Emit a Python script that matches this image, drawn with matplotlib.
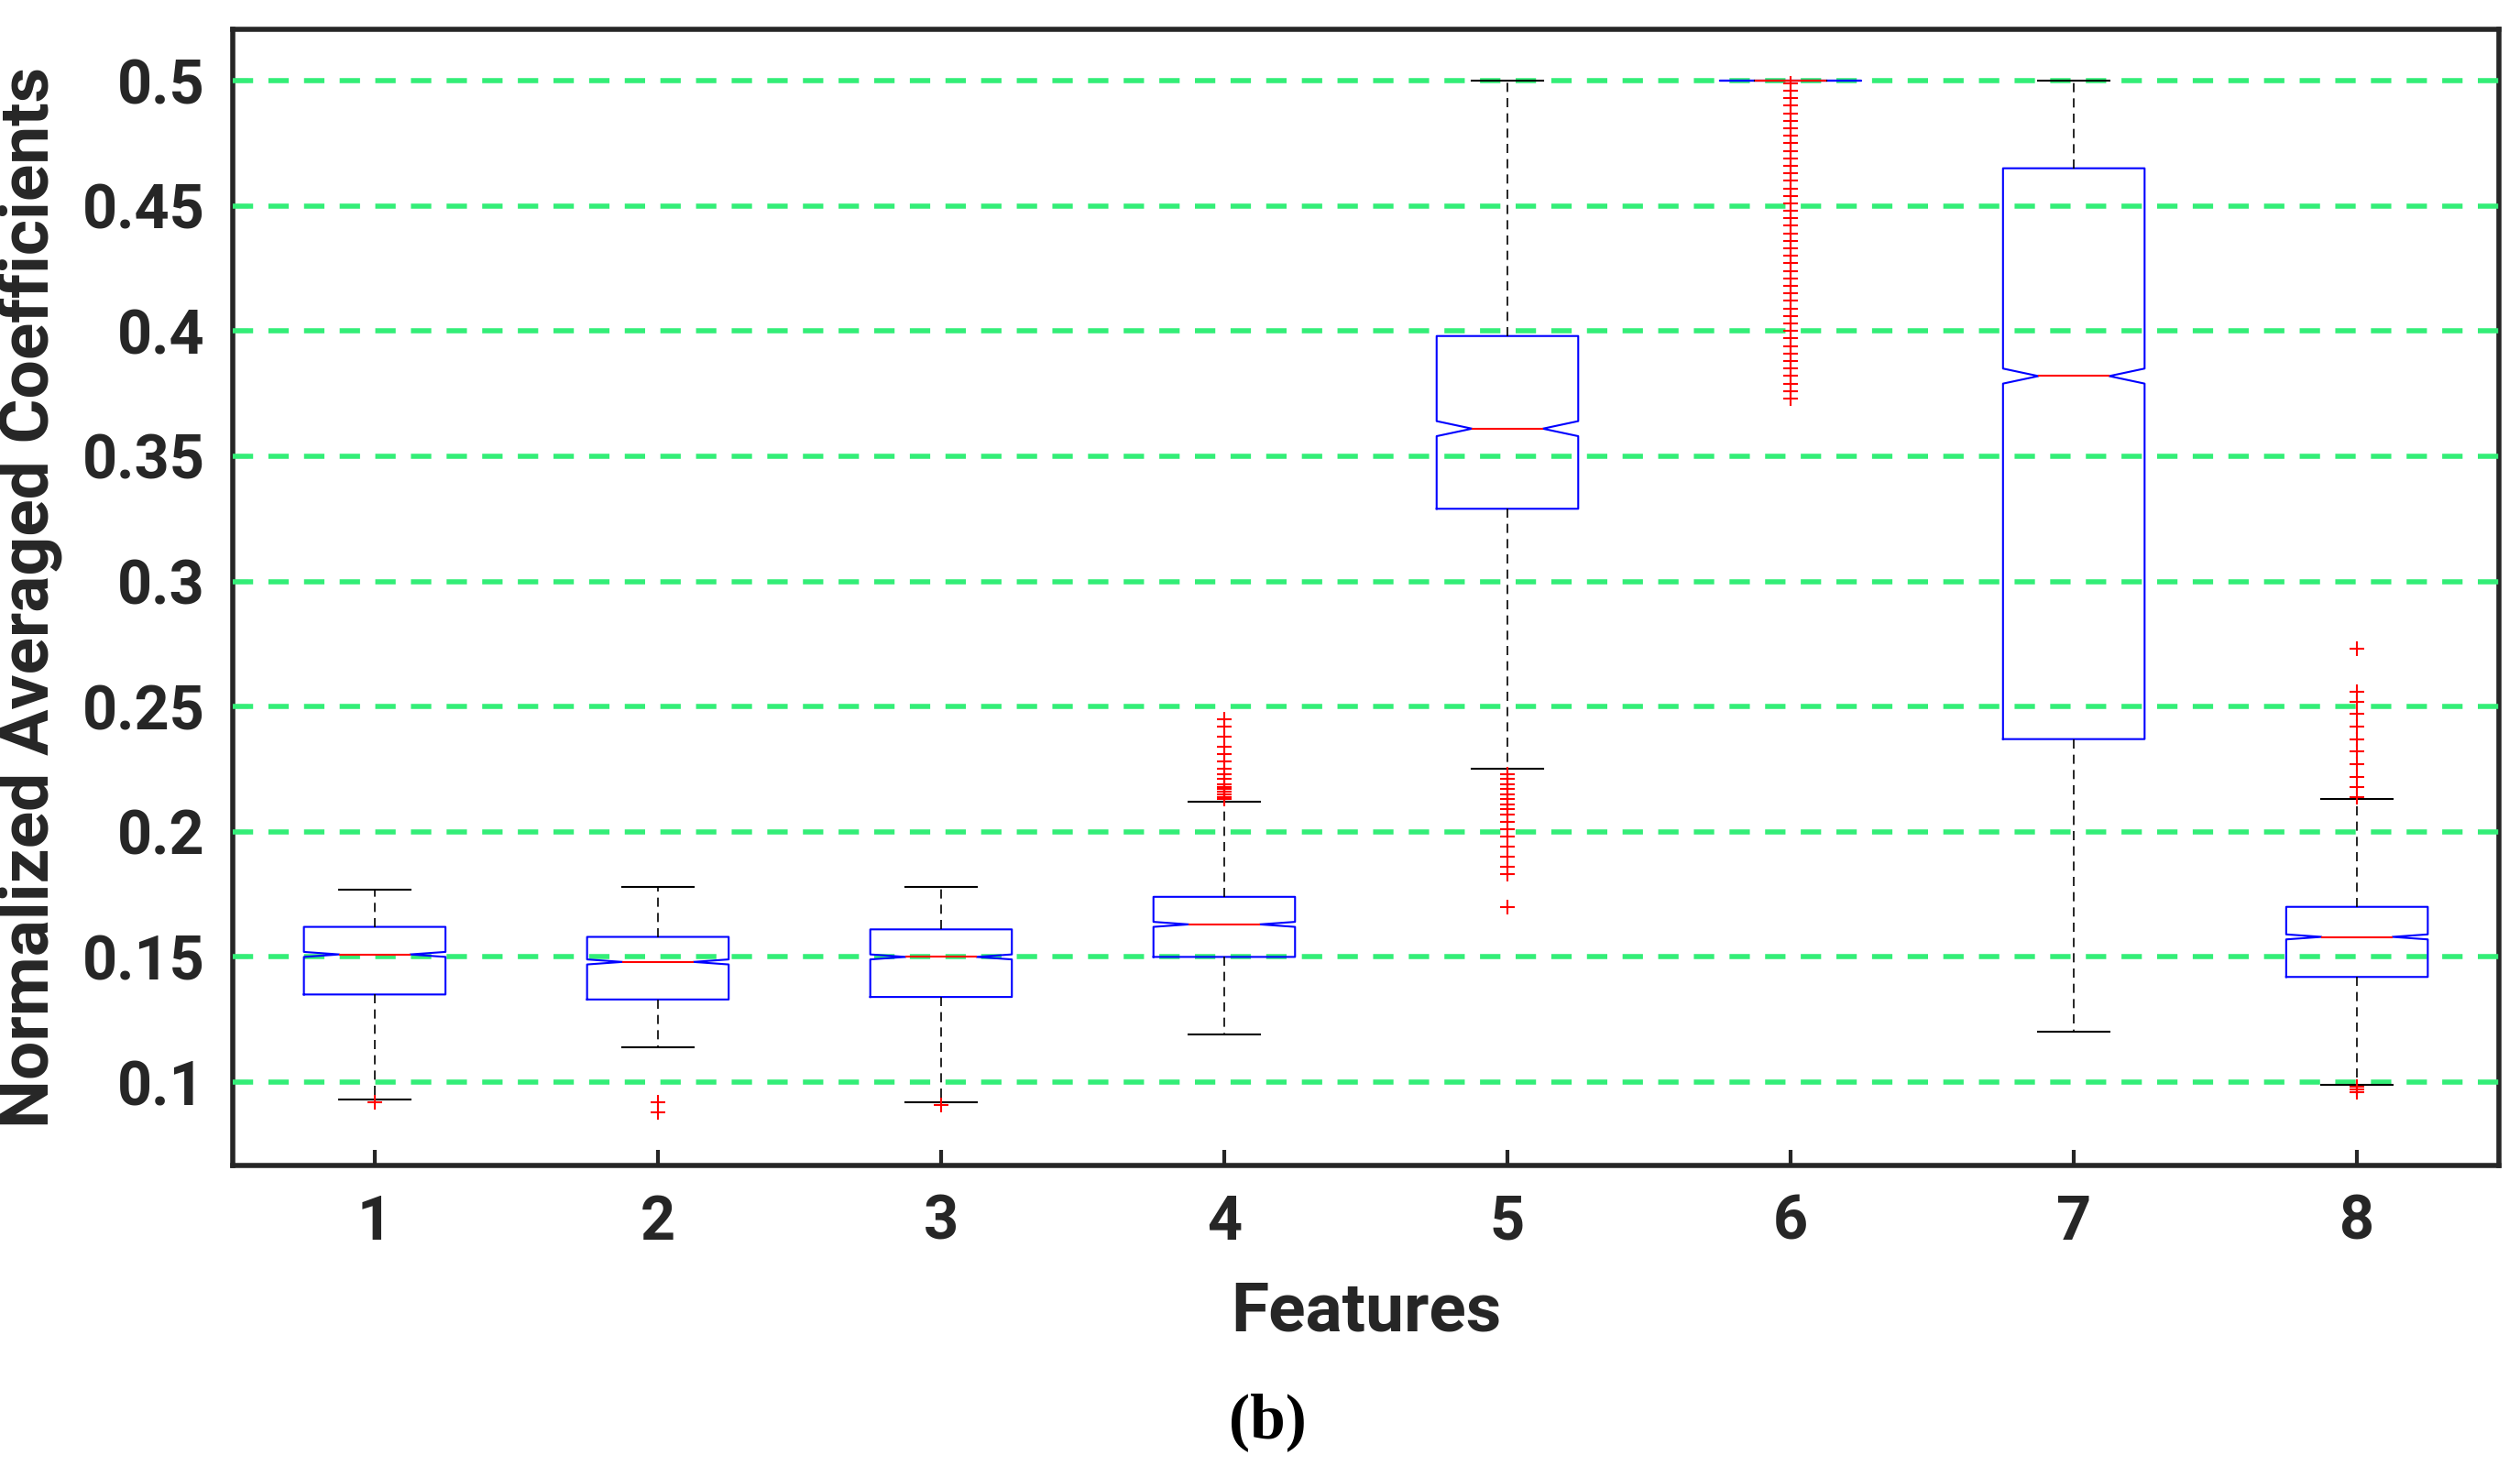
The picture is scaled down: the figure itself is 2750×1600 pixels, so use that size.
import matplotlib
matplotlib.use("Agg")
import matplotlib.pyplot as plt
import numpy as np

features = [1, 2, 3, 4, 5, 6, 7, 8]
whislo = [0.093, 0.114, 0.092, 0.119, 0.225, 0.500, 0.120, 0.099]
q1 = [0.135, 0.133, 0.134, 0.150, 0.329, 0.500, 0.237, 0.142]
med = [0.151, 0.148, 0.150, 0.163, 0.361, 0.500, 0.382, 0.158]
q3 = [0.162, 0.158, 0.161, 0.174, 0.398, 0.500, 0.465, 0.170]
whishi = [0.177, 0.178, 0.178, 0.212, 0.500, 0.500, 0.500, 0.213]
cilo = [0.150, 0.147, 0.149, 0.162, 0.358, 0.500, 0.379, 0.157]
cihi = [0.152, 0.149, 0.151, 0.164, 0.364, 0.500, 0.385, 0.159]
fliers = [
    [0.092],
    [0.088, 0.092],
    [0.091],
    [0.213, 0.214, 0.215, 0.216, 0.217, 0.218, 0.219, 0.221, 0.223, 0.225, 0.228,
     0.231, 0.234, 0.238, 0.242, 0.245],
    [0.170, 0.183, 0.186, 0.190, 0.194, 0.198, 0.201, 0.204, 0.207, 0.209, 0.211,
     0.213, 0.215, 0.217, 0.219, 0.221, 0.223],
    [0.373, 0.376, 0.379, 0.382, 0.385, 0.388, 0.391, 0.394, 0.397, 0.400, 0.403,
     0.406, 0.409, 0.412, 0.415, 0.418, 0.421, 0.424, 0.427, 0.430, 0.433, 0.436,
     0.439, 0.442, 0.445, 0.448, 0.451, 0.454, 0.457, 0.460, 0.463, 0.466, 0.469,
     0.472, 0.475, 0.478, 0.481, 0.484, 0.487, 0.490, 0.493, 0.496, 0.499],
    [],
    [0.096, 0.097, 0.098, 0.214, 0.218, 0.222, 0.227, 0.232, 0.237, 0.242, 0.247,
     0.252, 0.256, 0.273],
]

stats = []
for i in range(len(features)):
    stats.append(dict(whislo=whislo[i], q1=q1[i], med=med[i], q3=q3[i],
                      whishi=whishi[i], cilo=cilo[i], cihi=cihi[i],
                      fliers=fliers[i]))

fig = plt.figure(figsize=(27.5, 16), dpi=100)
ax = fig.add_axes([0.0925, 0.205, 0.899, 0.775])

for y in np.arange(0.1, 0.501, 0.05):
    ax.axhline(y, color="#33ee77", linestyle=(0, (4, 3)), linewidth=4, zorder=3)

ax.bxp(stats, positions=features, widths=0.5, shownotches=True,
       boxprops=dict(color="blue", linewidth=1.5),
       medianprops=dict(color="red", linewidth=1.5),
       whiskerprops=dict(color="black", linestyle=(0, (6, 4)), linewidth=1.2),
       capprops=dict(color="black", linewidth=1.5),
       flierprops=dict(marker="+", markeredgecolor="red", markersize=12,
                       markeredgewidth=1.5, linestyle="none"),
       zorder=4)

ax.set_xlim(0.5, 8.5)
ax.set_ylim(0.0667, 0.5205)
ax.set_yticks(np.arange(0.1, 0.501, 0.05))
ax.set_yticklabels(["0.1", "0.15", "0.2", "0.25", "0.3", "0.35", "0.4", "0.45", "0.5"])
ax.set_xticks(features)
ax.set_xticklabels([str(f) for f in features])
for lab in ax.get_xticklabels() + ax.get_yticklabels():
    lab.set_fontsize(48)
    lab.set_fontweight("bold")
    lab.set_family("Roboto")
    lab.set_color("#262626")
ax.tick_params(direction="in", length=12, width=3, colors="#262626", pad=22)
ax.tick_params(axis="x", top=False)
for s in ax.spines.values():
    s.set_linewidth(4)
    s.set_color("#262626")

ax.set_xlabel("Features", fontsize=54, fontweight="bold", family="Roboto",
              color="#262626", labelpad=22)
ax.set_ylabel("Normalized Averaged Coefficients", fontsize=54, fontweight="bold",
              family="Roboto", color="#262626", labelpad=16)
fig.text(0.503, 0.03, "(b)", fontsize=50, fontweight="bold",
         family="Liberation Serif", ha="center", va="center")

fig.savefig("out.png")
